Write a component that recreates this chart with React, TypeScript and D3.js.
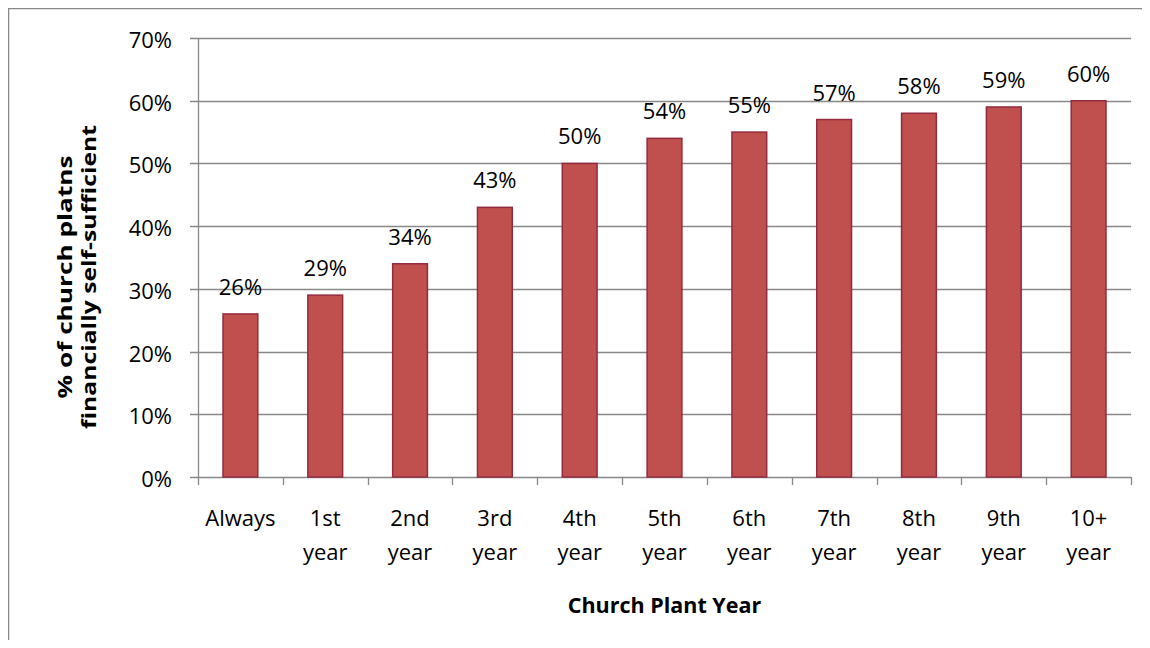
import { useEffect, useRef } from 'react'
import * as d3 from 'd3'

const categories = ['Always', '1st year', '2nd year', '3rd year', '4th year', '5th year', '6th year', '7th year', '8th year', '9th year', '10+ year']
const values = [26, 29, 34, 43, 50, 54, 55, 57, 58, 59, 60]
const yTicks = [0, 10, 20, 30, 40, 50, 60, 70]
const yTitle = ['% of church platns', 'financially self-sufficient']
const xTitle = 'Church Plant Year'

export default function App() {
  const ref = useRef<SVGSVGElement | null>(null)

  useEffect(() => {
    const width = 1134
    const height = 632
    const svg = d3.select(ref.current).attr('width', width).attr('height', height)
    svg.selectAll('*').remove()

    const font = "'Open Sans', 'Noto Sans', sans-serif"
    const gridColor = '#888888'
    const left = 190
    const right = 1123
    const top = 30
    const bottom = 469

    // outer chart border (right/bottom edges fall outside the view)
    svg.append('rect')
      .attr('x', 0.5).attr('y', 0.5)
      .attr('width', width + 20).attr('height', height + 20)
      .attr('fill', '#fff').attr('stroke', gridColor).attr('stroke-width', 1.5)

    const y = d3.scaleLinear().domain([0, 70]).range([bottom, top])
    const x = d3.scaleBand<string>().domain(categories).range([left, right]).paddingInner(0.59).paddingOuter(0.295)
    const slot = d3.scaleLinear().domain([0, categories.length]).range([left, right])

    const g = svg.append('g')

    // gridlines + y ticks
    yTicks.forEach((t) => {
      const yy = Math.round(y(t)) + 0.5
      g.append('line')
        .attr('x1', left - 8).attr('x2', right)
        .attr('y1', yy).attr('y2', yy)
        .attr('stroke', gridColor).attr('stroke-width', 1.3)
      g.append('text')
        .attr('x', left - 26).attr('y', yy)
        .attr('text-anchor', 'end').attr('dominant-baseline', 'central')
        .attr('font-family', font).attr('font-size', 22).attr('fill', '#000')
        .text(`${t}%`)
    })

    // y axis line
    g.append('line')
      .attr('x1', left + 0.5).attr('x2', left + 0.5)
      .attr('y1', top).attr('y2', bottom)
      .attr('stroke', gridColor).attr('stroke-width', 1.3)

    // x category ticks
    d3.range(categories.length + 1).forEach((i) => {
      const xx = Math.round(slot(i)) + 0.5
      g.append('line')
        .attr('x1', xx).attr('x2', xx)
        .attr('y1', bottom).attr('y2', bottom + 8)
        .attr('stroke', gridColor).attr('stroke-width', 1.3)
    })

    // bars
    g.selectAll('rect.bar')
      .data(values)
      .enter()
      .append('rect')
      .attr('class', 'bar')
      .attr('x', (_d, i) => x(categories[i]) as number)
      .attr('y', (d) => y(d))
      .attr('width', x.bandwidth())
      .attr('height', (d) => bottom - y(d))
      .attr('fill', '#C0504D')
      .attr('stroke', '#922B40')
      .attr('stroke-width', 1.5)

    // value labels
    g.selectAll('text.val')
      .data(values)
      .enter()
      .append('text')
      .attr('class', 'val')
      .attr('x', (_d, i) => (x(categories[i]) as number) + x.bandwidth() / 2)
      .attr('y', (d) => y(d) - 19)
      .attr('text-anchor', 'middle')
      .attr('font-family', font).attr('font-size', 22).attr('fill', '#000')
      .text((d) => `${d}%`)

    // category labels (wrapped)
    categories.forEach((c, i) => {
      const cx = (x(c) as number) + x.bandwidth() / 2
      const parts = c.split(' ')
      const t = g.append('text')
        .attr('text-anchor', 'middle')
        .attr('font-family', font).attr('font-size', 22).attr('fill', '#000')
      parts.forEach((p, j) => {
        t.append('tspan').attr('x', cx).attr('y', 518 + j * 34).text(p)
      })
    })

    // x axis title
    g.append('text')
      .attr('x', (left + right) / 2).attr('y', 605)
      .attr('text-anchor', 'middle')
      .attr('font-family', font).attr('font-size', 21.5).attr('font-weight', 'bold').attr('fill', '#000')
      .text(xTitle)

    // y axis title, two lines, stretched along the axis like the original
    const titleLen = [243, 304]
    yTitle.forEach((line, j) => {
      g.append('text')
        .attr('transform', `translate(0, 269) rotate(-90)`)
        .attr('x', 0).attr('y', 64 + j * 24)
        .attr('text-anchor', 'middle')
        .attr('textLength', titleLen[j])
        .attr('lengthAdjust', 'spacingAndGlyphs')
        .attr('font-family', font).attr('font-size', 20).attr('font-weight', 'bold').attr('fill', '#000')
        .text(line)
    })
  }, [])

  return <svg ref={ref} style={{ display: 'block' }} />
}
